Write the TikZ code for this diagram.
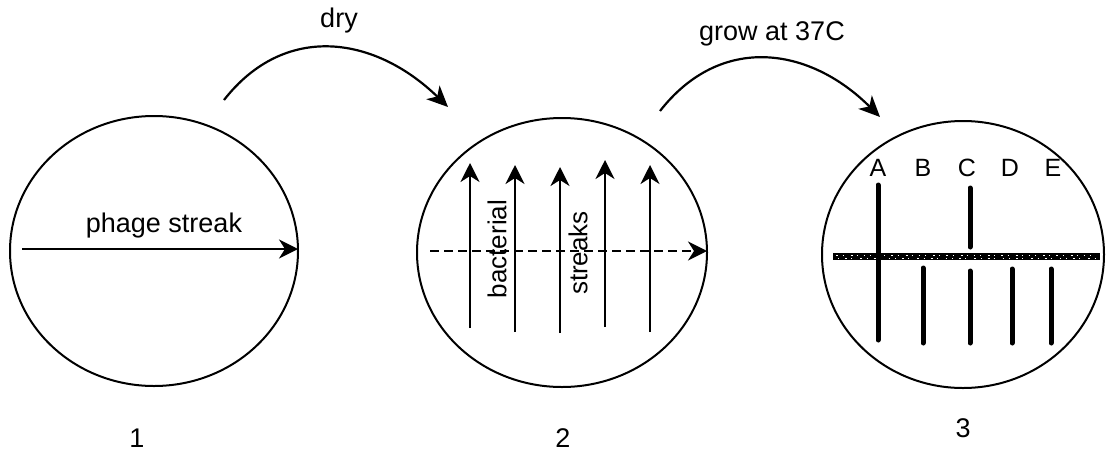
\documentclass[tikz,border=0pt]{standalone}
\usepackage{fontspec}
\setmainfont{Liberation Sans}
\usetikzlibrary{arrows.meta,shapes.geometric}
\begin{document}
\begin{tikzpicture}[x=1pt,y=-1pt,
  plate/.style={draw, ellipse, line width=2pt, inner sep=0pt, outer sep=0pt},
  lbl/.style={inner sep=0pt, font=\fontsize{27}{31}\selectfont},
  slbl/.style={inner sep=0pt, font=\fontsize{26}{30}\selectfont},
  letterlbl/.style={inner sep=0pt, font=\fontsize{25}{29}\selectfont},
  streak/.style={line width=2.1pt, -{Stealth[length=19pt,width=19pt,inset=6pt]}},
  dstreak/.style={streak, dash pattern=on 9pt off 5pt},
  flow/.style={line width=2.2pt, -{Stealth[length=21pt,width=19pt,inset=6pt]}},
  growth/.style={line width=5pt, line cap=round},
]
\useasboundingbox (0,0) rectangle (1106,453);
% plates
\node[plate, minimum width=288pt, minimum height=270pt] (p1) at (154,251) {};
\node[plate, minimum width=290pt, minimum height=269pt] (p2) at (562,252.5) {};
\node[plate, minimum width=282pt, minimum height=267pt] (p3) at (963,254.5) {};
% plate numbers
\node[lbl] (n1) at (137,438) {1};
\node[lbl] (n2) at (563,438) {2};
\node[lbl] (n3) at (963,428.5) {3};
% flow arcs
\coordinate (d1) at (224,100);
\coordinate (d2) at (448,107);
\coordinate (g1) at (660,111);
\coordinate (g2) at (880,117);
\draw[flow] (d1) .. controls (285,22) and (375,36) .. (d2);
\draw[flow] (g1) .. controls (721,33) and (810,47) .. (g2);
\node[lbl, anchor=base] (tdry) at (339,27) {dry};
\node[lbl, anchor=base] (tgrow) at (772,40) {grow at 37C};
% plate 1
\coordinate (ph) at (22,249);
\draw[streak] (ph) -- (ph -| p1.east);
\node[lbl, anchor=base] (tph) at (164,232) {phage streak};
% plate 2
\coordinate (ds) at (430,251);
\draw[dstreak] (ds) -- (ds -| p2.east);
\coordinate (b1s) at (470,328); \coordinate (b1e) at (470,163);
\coordinate (b2s) at (515,332); \coordinate (b2e) at (515,165);
\coordinate (b3s) at (560,333); \coordinate (b3e) at (560,167);
\coordinate (b4s) at (605,327); \coordinate (b4e) at (605,160);
\coordinate (b5s) at (650,332); \coordinate (b5e) at (650,165);
\draw[streak] (b1s) -- (b1e);
\draw[streak] (b2s) -- (b2e);
\draw[streak] (b3s) -- (b3e);
\draw[streak] (b4s) -- (b4e);
\draw[streak] (b5s) -- (b5e);
\node[slbl, rotate=90] (tbac) at (497,249) {bacterial};
\node[slbl, rotate=90] (tstr) at (578,253) {streaks};
% plate 3
\node[letterlbl] (lA) at (878,168) {A};
\node[letterlbl] (lB) at (923,168) {B};
\node[letterlbl] (lC) at (967,168) {C};
\node[letterlbl] (lD) at (1010,168) {D};
\node[letterlbl] (lE) at (1053,168) {E};
\draw[line width=7pt] (833,256.5) -- (1100,256.5);
\draw[white, line width=0.9pt, dash pattern=on 1.5pt off 5pt on 1pt off 7pt on 2pt off 4pt on 1pt off 6pt] (836,255) -- (1097,255);
\draw[white, line width=0.9pt, dash pattern=on 1pt off 6pt on 2pt off 4pt on 1pt off 8pt on 1.5pt off 5pt] (838,258.5) -- (1096,258.5);
\draw[growth] (878,185) -- (878,340);
\draw[growth] (970,188) -- (970,247);
\draw[growth] (923,268) -- (923,343);
\draw[growth] (970,271) -- (970,343);
\draw[growth] (1012,269) -- (1012,343);
\draw[growth] (1051,269) -- (1051,343);
\end{tikzpicture}
\end{document}
